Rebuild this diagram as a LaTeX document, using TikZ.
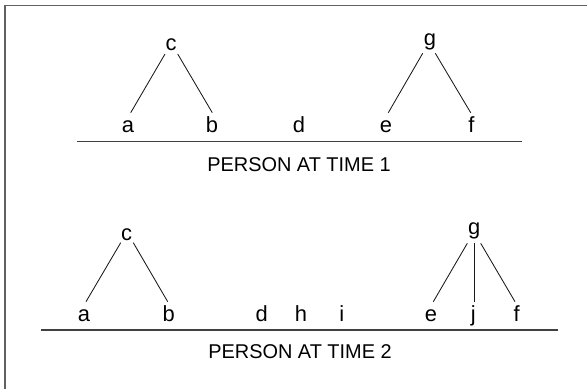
\documentclass[tikz,border=0pt]{standalone}
\usepackage{fontspec}
\setmainfont{Liberation Sans}
\begin{document}
\begin{tikzpicture}[x=1bp,y=-1bp,
  lbl/.style={inner sep=0pt, anchor=base, font=\fontsize{22}{22}\selectfont, text=black},
  captext/.style={inner sep=0pt, anchor=base, font=\fontsize{20}{20}\selectfont, text=black},
  conn/.style={line width=0.85bp, draw=black!90},
  rulerline/.style={line width=1.1bp, draw=black!75},
  framebox/.style={line width=1.5bp, draw=black!62}]
\useasboundingbox (0,0) rectangle (587,389);
% frame (top and left edges)
\coordinate (fr1) at (5,389);
\coordinate (fr2) at (5,5.5);
\coordinate (fr3) at (587,5.5);
\draw[framebox] (fr1) -- (fr2) -- (fr3);

% ---- Time 1 ----
\node[lbl] (c1) at (171,50) {c};
\node[lbl] (g1) at (430,45) {g};
\node[lbl] (a1) at (128,132) {a};
\node[lbl] (b1) at (212,132) {b};
\node[lbl] (d1) at (299,132) {d};
\node[lbl] (e1) at (386,132) {e};
\node[lbl] (f1) at (471.5,132) {f};
\draw[conn] ([shift={(-6,4)}]c1.base) -- ([shift={(2.7,-19.3)}]a1.base);
\draw[conn] ([shift={(6.7,4)}]c1.base) -- ([shift={(0.3,-19.3)}]b1.base);
\draw[conn] ([shift={(-7.3,8.3)}]g1.base) -- ([shift={(2.3,-19.3)}]e1.base);
\draw[conn] ([shift={(5.3,8.3)}]g1.base) -- ([shift={(-0.8,-19.3)}]f1.base);
\coordinate (r1s) at (77.3,141.3);
\coordinate (r1e) at (522.3,141.3);
\draw[rulerline] (r1s) -- (r1e);
\node[captext] (t1) at (299,171.3) {PERSON AT TIME 1};

% ---- Time 2 ----
\node[lbl] (c2) at (126.7,240) {c};
\node[lbl] (g2) at (474.3,234) {g};
\node[lbl] (a2) at (84,321.5) {a};
\node[lbl] (b2) at (168.7,321.5) {b};
\node[lbl] (d2) at (261.7,321.5) {d};
\node[lbl] (h2) at (301,321.5) {h};
\node[lbl] (i2) at (341.7,321.5) {i};
\node[lbl] (e2) at (431,321.5) {e};
\node[lbl] (j2) at (473.3,321.5) {j};
\node[lbl] (f2) at (516.7,321.5) {f};
\draw[conn] ([shift={(-6,2.7)}]c2.base) -- ([shift={(2,-19.8)}]a2.base);
\draw[conn] ([shift={(6.6,2.7)}]c2.base) -- ([shift={(-1,-19.8)}]b2.base);
\draw[conn] ([shift={(-7,9.3)}]g2.base) -- ([shift={(2.3,-19.8)}]e2.base);
\draw[conn] ([shift={(0.4,9.3)}]g2.base) -- ([shift={(1.4,-19.8)}]j2.base);
\draw[conn] ([shift={(6.4,9.3)}]g2.base) -- ([shift={(-1.7,-19.8)}]f2.base);
\coordinate (r2s) at (41,330);
\coordinate (r2e) at (558.3,330);
\draw[rulerline] (r2s) -- (r2e);
\node[captext] (t2) at (300,358) {PERSON AT TIME 2};
\end{tikzpicture}
\end{document}
